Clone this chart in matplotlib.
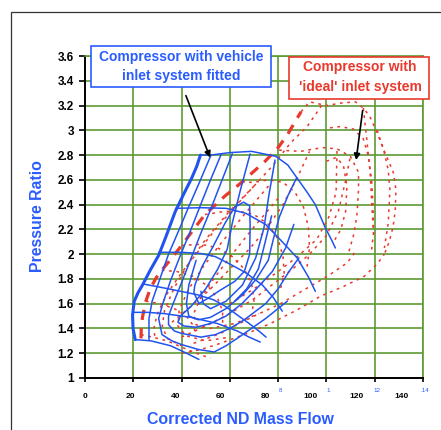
import matplotlib
matplotlib.use('Agg')
import matplotlib.pyplot as plt
from matplotlib.patches import Rectangle
from matplotlib.transforms import ScaledTranslation

plt.rcParams['font.family'] = ['Liberation Sans', 'DejaVu Sans']

BLUE = '#2153f0'
TXT_BLUE = '#2a5cff'
RED = '#e8392c'
GREEN = '#5e9a33'

# --- compressor map with the vehicle inlet system (blue) ---
veh_surge = [(20.8, 1.31), (19.9, 1.40), (19.7, 1.51), (20.4, 1.62), (22, 1.69), (23.8, 1.75),
             (27, 1.87), (30.5, 1.99), (33.5, 2.14), (37.3, 2.34), (41, 2.49), (44.1, 2.61),
             (46.3, 2.71), (47.8, 2.80)]

veh_speed = [
    [(47.8, 2.80), (52, 2.80), (60, 2.82), (69, 2.83), (79, 2.79), (84, 2.72), (88, 2.61),
     (92, 2.50), (95.4, 2.40), (99.6, 2.21), (102, 2.12), (103.7, 2.05)],
    [(37.5, 2.37), (48, 2.375), (58.4, 2.37), (66.6, 2.33), (74.8, 2.24), (81.7, 2.10),
     (87.9, 1.97), (92.7, 1.81), (95.4, 1.70)],
    [(30.5, 2.015), (40, 2.015), (48, 2.005), (54, 1.98), (60, 1.92), (66.6, 1.85),
     (73.5, 1.75), (78, 1.65), (81.7, 1.54)],
    [(23.8, 1.76), (32, 1.73), (39.6, 1.70), (47, 1.67), (53.4, 1.63), (58, 1.58),
     (63, 1.51), (68, 1.44), (72.6, 1.37), (75, 1.33)],
    [(19.9, 1.53), (26, 1.53), (32.8, 1.52), (43.8, 1.49), (54.8, 1.44), (63, 1.38),
     (68, 1.33), (72.6, 1.29)],
    [(20.8, 1.31), (27.3, 1.30), (35.5, 1.26), (41, 1.21), (47.2, 1.15)],
]

veh_eff = [
    [(52.2, 2.80), (47.4, 2.58), (42.7, 2.37), (38.6, 2.18), (34.6, 2.0), (31.2, 1.81),
     (27.8, 1.62), (26.5, 1.48), (26.5, 1.31)],
    [(56.5, 2.81), (52, 2.60), (47.5, 2.38), (43.5, 2.18), (39.5, 1.99), (35.5, 1.79),
     (32.2, 1.60), (30.5, 1.48), (31.9, 1.35), (36, 1.30), (40, 1.27), (47, 1.23),
     (53.5, 1.21), (58.4, 1.26), (63.8, 1.33), (74.8, 1.48), (83.8, 1.62)],
    [(61, 2.81), (56.2, 2.57), (51.4, 2.33), (48, 2.17), (44, 1.97), (40, 1.77),
     (36.5, 1.60), (34.6, 1.50), (34.6, 1.43), (37, 1.38), (40, 1.36), (48, 1.33),
     (54, 1.35), (60, 1.40), (66, 1.47), (74.8, 1.60), (80, 1.72), (84.5, 1.86), (88.6, 1.97)],
    [(68.4, 2.81), (64.4, 2.52), (61, 2.25), (58.9, 2.04), (55, 1.88), (50, 1.72),
     (44, 1.58), (39.5, 1.50), (38.5, 1.45), (41, 1.42), (46, 1.41), (52, 1.44),
     (58.4, 1.50), (65, 1.60), (71, 1.72), (77.6, 1.86), (83.1, 2.05), (86.5, 2.24)],
    [(46, 1.95), (43, 1.75), (42, 1.60), (43, 1.50), (47, 1.47), (52, 1.49), (58.4, 1.56),
     (65.2, 1.67), (71, 1.80), (75.9, 1.95), (78, 2.12), (80.5, 2.30), (84, 2.47), (87.5, 2.61)],
    [(48, 1.70), (49, 1.60), (52, 1.56), (58.4, 1.62), (65.2, 1.75), (70.7, 1.97),
     (74.1, 2.21), (76.2, 2.48), (78.7, 2.76)],
    [(62, 1.62), (67, 1.72), (71.8, 1.88), (73.9, 2.04), (77.3, 2.31)],
    [(47.2, 1.60), (50.6, 1.64), (56.1, 1.71), (62, 1.78), (66, 1.86), (68.2, 2.0),
     (68.4, 2.23), (68.2, 2.39), (65.7, 2.42), (62, 2.38), (58, 2.25), (53, 2.06),
     (48.5, 1.90), (45.5, 1.75), (45.1, 1.69), (47.2, 1.60)],
]

# --- compressor map with the ideal inlet system (red) ---
ideal_surge = [(23.2, 1.32), (23.3, 1.40), (23.8, 1.49), (25.2, 1.62), (27, 1.72), (29.5, 1.81),
               (31.8, 1.87), (36, 1.97), (40, 2.07), (45, 2.20), (49.7, 2.32), (58, 2.47),
               (64.9, 2.58), (70, 2.67), (74.6, 2.75), (80, 2.86), (84, 2.97), (89.5, 3.15)]

ideal_speed = [
    [(89.5, 3.15), (93, 3.23), (100, 3.20), (106, 3.22), (112, 3.23), (115.3, 3.18),
     (118, 3.11), (121, 2.98), (123.6, 2.85), (127.7, 2.66), (128.8, 2.52), (128.5, 2.35),
     (127.6, 2.22), (126, 2.10), (124, 2.0)],
    [(80.4, 2.84), (89.3, 2.83), (95, 2.85), (99, 2.86), (104.4, 2.85), (109.9, 2.79),
     (113.3, 2.66), (113.3, 2.52), (112.6, 2.31), (111.2, 2.15), (109, 2.0)],
    [(64.9, 2.58), (70, 2.58), (76, 2.60), (82, 2.58), (87, 2.50), (90.5, 2.38),
     (92.5, 2.22), (93, 2.05), (92, 1.90)],
    [(49.7, 2.32), (56, 2.34), (63, 2.35), (70, 2.32), (76, 2.24), (80, 2.12), (82, 1.98),
     (82.5, 1.85), (81, 1.72)],
    [(40, 2.07), (48, 2.08), (55, 2.05), (61, 1.98), (66, 1.88), (69, 1.76), (70, 1.62),
     (69, 1.52)],
    [(31.8, 1.87), (38, 1.86), (45, 1.82), (51, 1.74), (55, 1.64), (57, 1.54), (57, 1.44)],
    [(25.2, 1.62), (31, 1.60), (37, 1.56), (42, 1.50), (45, 1.42), (46, 1.34)],
    [(23.2, 1.35), (28, 1.33), (34, 1.30), (40, 1.25), (46, 1.20), (52, 1.16)],
]

ideal_eff = [
    [(40, 1.20), (48, 1.23), (56.1, 1.28), (67.2, 1.36), (76.8, 1.44), (87.9, 1.55),
     (97.5, 1.66), (107.2, 1.74), (115.6, 1.82), (121, 1.92), (124, 2.0)],
    [(45, 1.28), (56.1, 1.36), (70, 1.50), (81, 1.60), (90.6, 1.71), (100.3, 1.82),
     (108.6, 1.93), (112, 2.02)],
    [(40, 1.33), (50, 1.42), (60, 1.52), (70, 1.64), (78, 1.76), (86, 1.88), (93, 2.0),
     (100, 2.15), (105, 2.35), (108, 2.6), (109.9, 2.79)],
    [(60, 1.60), (70, 1.72), (80, 1.86), (88, 1.98), (96, 2.12), (101, 2.3), (104, 2.5),
     (104.4, 2.85)],
    [(101.5, 3.02), (105.7, 3.03), (111.2, 3.01), (115.3, 2.93), (117.4, 2.79),
     (118.7, 2.60), (119.3, 2.40), (119.5, 2.17), (118.5, 2.0)],
    [(115.3, 3.18), (116, 3.05), (116.7, 2.93), (118.1, 2.66), (118.8, 2.39), (119.5, 2.17)],
    [(121, 3.0), (123.6, 2.85), (125.6, 2.68), (126.3, 2.52), (125.6, 2.25), (124, 2.05)],
    [(100, 2.75), (104, 2.78), (107, 2.72), (108.5, 2.55), (108, 2.35), (106, 2.2), (103, 2.1)],
    [(98, 3.20), (92, 3.03), (85.2, 2.90), (78, 2.72), (70, 2.55), (62, 2.38), (54, 2.20),
     (46, 2.0), (40, 1.85), (34, 1.68), (30, 1.52), (28.5, 1.40), (29, 1.32)],
    [(70, 2.55), (60, 2.35), (50, 2.12), (43, 1.93), (37, 1.73), (33, 1.55), (32, 1.42),
     (34, 1.32), (40, 1.26)],
    [(76, 2.55), (66, 2.32), (56, 2.08), (49, 1.90), (43, 1.72), (39, 1.55), (38.5, 1.42),
     (42, 1.34), (50, 1.30), (60, 1.33)],
    [(80, 2.45), (70, 2.22), (61, 2.00), (54, 1.82), (48, 1.65), (45, 1.52), (46, 1.43),
     (52, 1.40), (62, 1.44), (72, 1.52)],
    [(36, 1.45), (44, 1.58), (52, 1.72), (60, 1.88), (68, 2.04), (75, 2.2), (82, 2.4),
     (88, 2.62), (93, 2.83)],
]

x_ticks = [0, 20, 40, 60, 80, 100, 120, 140]
x_labels = ['0', '20', '40', '60', '80', '100', '120', '140']
y_ticks = [1, 1.2, 1.4, 1.6, 1.8, 2, 2.2, 2.4, 2.6, 2.8, 3, 3.2, 3.4, 3.6]
y_labels = ['1', '1.2', '1.4', '1.6', '1.8', '2', '2.2', '2.4', '2.6', '2.8', '3', '3.2',
            '3.4', '3.6']
old_x_pos = [80, 100, 120, 140]
old_x_labels = ['8', '1', '12', '.14']


def curve(pts, **kw):
    xs = [p[0] for p in pts]
    ys = [p[1] for p in pts]
    ax.plot(xs, ys, solid_capstyle='round', **kw)


W, H = 441, 430
fig = plt.figure(figsize=(W / 100, H / 100), dpi=100)


def fx(px):
    return px / W


def fy(py):
    return 1 - py / H


ax = fig.add_axes([fx(85), fy(378), (423 - 85) / W, (378 - 56) / H])
ax.set_xlim(0, 140)
ax.set_ylim(1, 3.6)

ax.set_xticks(x_ticks)
ax.set_xticklabels([])
ax.set_yticks(y_ticks)
ax.set_yticklabels(y_labels, fontsize=8.5, fontweight='bold')
ax.tick_params(axis='y', direction='out', length=4, width=1.2, pad=4)
ax.tick_params(axis='x', direction='out', length=3, width=1.2)
ax.grid(True, color=GREEN, lw=1.2)
ax.set_axisbelow(True)
for s in ['left', 'bottom']:
    ax.spines[s].set_linewidth(1.4)
    ax.spines[s].set_color('black')
for s in ['top', 'right']:
    ax.spines[s].set_color(GREEN)
    ax.spines[s].set_linewidth(1.2)

# x labels sit slightly off their ticks
for i, (xv, lab) in enumerate(zip(x_ticks, x_labels)):
    off = ScaledTranslation(-3.1 * i / 100, -18 / 100, fig.dpi_scale_trans)
    ax.text(xv, 0, lab, transform=ax.get_xaxis_transform() + off, ha='center', va='center',
            fontsize=6, fontweight='bold')
for xv, lab in zip(old_x_pos, old_x_labels):
    off = ScaledTranslation(2 / 100, -12 / 100, fig.dpi_scale_trans)
    ax.text(xv, 0, lab, transform=ax.get_xaxis_transform() + off, ha='center', va='center',
            fontsize=4.5, color=TXT_BLUE)

# ideal map
for c in ideal_speed + ideal_eff:
    curve(c, color=RED, lw=1.1, ls=(0, (1.8, 3)))
curve(ideal_surge, color=RED, lw=2.3, ls=(0, (3.2, 2.6)))

# vehicle map
for c in veh_speed + veh_eff:
    curve(c, color=BLUE, lw=1.1)
curve(veh_surge, color=BLUE, lw=2.2)

# axis titles
fig.text(fx(38), fy(216), 'Pressure Ratio', rotation=90, ha='center', va='center',
         fontsize=11.4, fontweight='bold', color=TXT_BLUE)
fig.text(fx(240), fy(420), 'Corrected ND Mass Flow', ha='center', va='center',
         fontsize=11.4, fontweight='bold', color=TXT_BLUE)

# callout boxes
fig.patches.append(Rectangle((fx(91), fy(87.3)), (270.7 - 91) / W, (87.3 - 45.7) / H,
                             transform=fig.transFigure, facecolor='white', edgecolor=TXT_BLUE,
                             lw=1.2, zorder=5))
fig.text(fx(181), fy(56.7), 'Compressor with vehicle', ha='center', va='center',
         fontsize=10, fontweight='bold', color=TXT_BLUE, zorder=6)
fig.text(fx(181), fy(75.7), 'inlet system fitted', ha='center', va='center',
         fontsize=10, fontweight='bold', color=TXT_BLUE, zorder=6)

fig.patches.append(Rectangle((fx(289), fy(99)), (429 - 289) / W, (99 - 56.7) / H,
                             transform=fig.transFigure, facecolor='white', edgecolor=RED,
                             lw=1.2, zorder=5))
fig.text(fx(360), fy(67.3), 'Compressor with', ha='center', va='center',
         fontsize=10, fontweight='bold', color=RED, zorder=6)
fig.text(fx(360), fy(86.7), "'ideal' inlet system", ha='center', va='center',
         fontsize=10, fontweight='bold', color=RED, zorder=6)

ax.annotate('', xy=(51.8, 2.78), xytext=(41.8, 3.28), annotation_clip=False,
            arrowprops=dict(arrowstyle='-|>', color='black', lw=1.2, mutation_scale=9,
                            shrinkA=0, shrinkB=0))
ax.annotate('', xy=(112.3, 2.76), xytext=(115, 3.16), annotation_clip=False,
            arrowprops=dict(arrowstyle='-|>', color='black', lw=1.2, mutation_scale=9,
                            shrinkA=0, shrinkB=0))

# page frame
fig.patches.append(Rectangle((fx(11), -0.1), 1.2, fy(12) + 0.1, transform=fig.transFigure,
                             facecolor='none', edgecolor='#333333', lw=0.9))

fig.savefig('out.png', dpi=100)
